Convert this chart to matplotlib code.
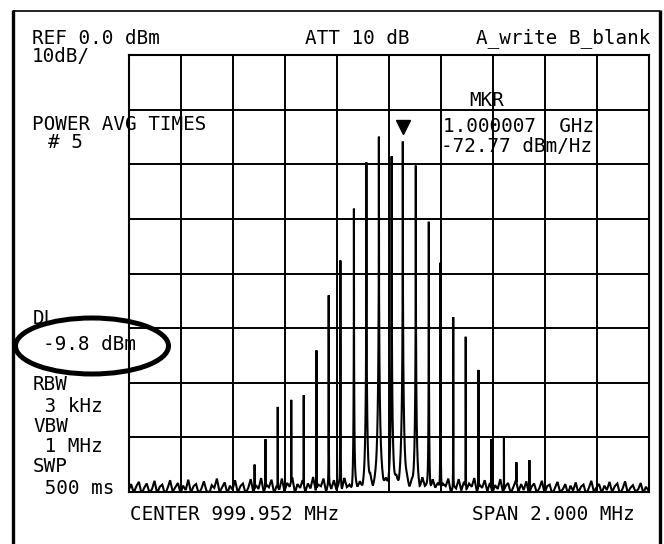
import numpy as np
import matplotlib
matplotlib.use("Agg")
import matplotlib.pyplot as plt
from matplotlib.patches import Ellipse

# ---- analyzer settings -------------------------------------------------
ref_level_dbm = 0.0
db_per_div = 10
n_vdiv = 8
center_mhz = 999.952
span_mhz = 2.000
n_hdiv = 10

# ---- comb lines (frequency in MHz, level in dBm) -----------------------
peak_freqs_mhz = [
    999.437, 999.479, 999.526, 999.578, 999.626, 999.675, 999.722, 999.767,
    999.819, 999.867, 999.915, 999.964, 1000.007, 1000.057, 1000.107,
    1000.152, 1000.201, 1000.249, 1000.298, 1000.347, 1000.396, 1000.444,
    1000.494,
]
peak_levels_dbm = [
    -77.0, -71.0, -64.6, -63.3, -62.4, -54.1, -44.0, -37.6,
    -28.1, -19.6, -14.9, -18.5, -15.8, -20.2, -30.5,
    -38.0, -48.0, -51.6, -57.7, -71.0, -70.3, -77.0,
    -75.5,
]

# ---- noise floor, one reading every 10 kHz from the left edge -----------
noise_start_mhz = 998.952
noise_step_mhz = 0.01
noise_floor_dbm = [
    -79.8, -78.6, -80.2, -79.0, -78.2, -80.4, -79.3, -78.5, -80.1, -79.6,
    -78.0, -80.3, -79.1, -78.7, -80.5, -79.4, -77.9, -80.0, -79.2, -78.4,
    -80.3, -78.9, -79.7, -77.8, -80.2, -79.0, -78.6, -80.4, -79.5, -78.1,
    -79.9, -80.5, -78.8, -79.3, -77.6, -80.1, -79.2, -78.3, -80.4, -78.9,
    -79.6, -77.9, -80.2, -79.0, -78.5, -80.3, -79.4, -77.7, -80.0, -78.8,
    -79.5, -77.5, -80.1, -78.7, -79.2, -77.8, -80.3, -78.9, -79.6, -77.6,
    -79.9, -78.4, -79.1, -77.4, -80.2, -78.6, -79.3, -77.9, -80.0, -78.5,
    -79.4, -77.3, -79.8, -78.7, -79.0, -77.6, -80.1, -78.2, -79.5, -77.9,
    -79.7, -78.4, -79.9, -77.5, -79.2, -78.8, -80.0, -77.8, -79.4, -78.3,
    -79.8, -78.6, -79.1, -77.4, -80.0, -78.9, -79.3, -77.7, -79.6, -78.1,
    -79.9, -78.5, -79.2, -77.6, -80.1, -78.7, -79.4, -77.9, -79.8, -78.3,
    -79.5, -78.0, -79.9, -77.5, -79.1, -78.8, -80.0, -77.8, -79.3, -78.4,
    -79.7, -78.6, -79.0, -77.6, -80.2, -78.9, -79.4, -77.7, -79.8, -78.2,
    -79.6, -78.5, -79.1, -77.5, -80.0, -78.7, -79.3, -77.9, -79.9, -78.4,
    -80.2, -78.8, -79.5, -77.7, -80.1, -79.0, -78.4, -80.3, -79.2, -77.9,
    -80.0, -78.6, -79.7, -78.1, -80.4, -79.1, -78.5, -80.2, -79.4, -78.0,
    -80.3, -79.0, -78.7, -80.5, -79.3, -78.2, -80.1, -79.6, -78.6, -80.4,
    -78.9, -79.8, -78.3, -80.2, -79.1, -78.7, -80.5, -79.4, -78.0, -80.0,
    -79.2, -78.6, -80.3, -78.9, -79.7, -78.2, -80.1, -79.0, -78.5, -80.4,
    -79.5, -78.1, -80.2, -79.3, -78.8, -80.0, -79.6, -78.4, -80.3, -79.1,
    -79.8,
]

# ---- marker readout ----------------------------------------------------
marker_freq_mhz = 1000.007
marker_title = "MKR"
marker_lines = ["1.000007  GHz", "-72.77 dBm/Hz"]

# ---- screen annotations ------------------------------------------------
header_left = ["REF 0.0 dBm", "10dB/"]
header_att = "ATT 10 dB"
header_trace = "A_write B_blank"
avg_lines = ["POWER AVG TIMES", "# 5"]
dl_label = "DL"
dl_value = "-9.8 dBm"
bw_lines = ["RBW", " 3 kHz", "VBW", " 1 MHz", "SWP", " 500 ms"]
footer_center = "CENTER 999.952 MHz"
footer_span = "SPAN 2.000 MHz"

# ---- layout (pixels on a 664 x 544 canvas) ------------------------------
W, H = 664, 544
GRID_L, GRID_R = 128.5, 648.5
GRID_T, GRID_B = 55.4, 491.7

FONT = dict(family="DejaVu Sans Mono", size=13.9, color="black")

fig = plt.figure(figsize=(W / 100, H / 100), dpi=100)
fig.patch.set_facecolor("white")

# overlay in pixel coordinates for the screen text and frame
ov = fig.add_axes([0, 0, 1, 1])
ov.set_xlim(0, W)
ov.set_ylim(H, 0)
ov.axis("off")

# graticule axes
ax = fig.add_axes([GRID_L / W, 1 - GRID_B / H,
                   (GRID_R - GRID_L) / W, (GRID_B - GRID_T) / H])
ax.set_facecolor("none")
f_lo = center_mhz - span_mhz / 2
f_hi = center_mhz + span_mhz / 2
y_lo = ref_level_dbm - n_vdiv * db_per_div
ax.set_xlim(f_lo, f_hi)
ax.set_ylim(y_lo, ref_level_dbm)
ax.set_xticks(np.linspace(f_lo, f_hi, n_hdiv + 1))
ax.set_yticks(np.linspace(y_lo, ref_level_dbm, n_vdiv + 1))
ax.tick_params(length=0, labelbottom=False, labelleft=False)
ax.grid(True, color="black", lw=1.4)
for s in ax.spines.values():
    s.set_linewidth(1.5)
    s.set_color("black")

# spectrum trace: comb lines summed in power on top of the noise floor
f = np.union1d(np.linspace(f_lo, f_hi, 8001), peak_freqs_mhz)
noise_f = noise_start_mhz + noise_step_mhz * np.arange(len(noise_floor_dbm))
power = 10 ** (np.interp(f, noise_f, noise_floor_dbm) / 10)
skirt_w = 9.6e-5
for pf, pl in zip(peak_freqs_mhz, peak_levels_dbm):
    shape = pl - 30 * np.log10(1 + np.abs(f - pf) / skirt_w)
    power += 10 ** (shape / 10)
trace = 10 * np.log10(power)
trace = np.clip(trace, y_lo, ref_level_dbm)
ax.plot(f, trace, color="black", lw=1.5, solid_joinstyle="miter")

# marker on the selected comb line
mk_level = peak_levels_dbm[peak_freqs_mhz.index(marker_freq_mhz)]
ax.plot([marker_freq_mhz], [mk_level + 2.6], marker="v", ms=10,
        color="black", clip_on=False, zorder=5)

# header
ov.text(32, 38, header_left[0], va="center", ha="left", **FONT)
ov.text(32, 57, header_left[1], va="center", ha="left", **FONT)
ov.text(305, 38, header_att, va="center", ha="left", **FONT)
ov.text(650, 38, header_trace, va="center", ha="right", **FONT)

# averaging info
ov.text(32, 124, avg_lines[0], va="center", ha="left", **FONT)
ov.text(48, 143, avg_lines[1], va="center", ha="left", **FONT)

# marker readout
ov.text(469, 101, marker_title, va="center", ha="left", **FONT)
ov.text(443, 126, marker_lines[0], va="center", ha="left", **FONT)
ov.text(441, 146, marker_lines[1], va="center", ha="left", **FONT)

# display line with highlight
ov.text(33, 318, dl_label, va="center", ha="left", **FONT)
ov.text(43, 345, dl_value, va="center", ha="left", **FONT)
ov.add_patch(Ellipse((92, 346), 153, 56, fill=False, lw=3.6,
                     edgecolor="black", zorder=6))

# bandwidth / sweep block
for yy, txt in zip([385, 407, 426, 447, 466, 488], bw_lines):
    ov.text(33, yy, txt, va="center", ha="left", **FONT)

# footer
ov.text(130, 515, footer_center, va="center", ha="left", **FONT)
ov.text(472, 515, footer_span, va="center", ha="left", **FONT)

# outer frame
ov.plot([13, 13], [10, H], color="black", lw=2.4, solid_capstyle="butt")
ov.plot([660, 660], [10, H], color="black", lw=2.4, solid_capstyle="butt")
ov.plot([13, 660], [11, 11], color="black", lw=1.2, solid_capstyle="butt")

fig.savefig("out.png", dpi=100, facecolor="white")
